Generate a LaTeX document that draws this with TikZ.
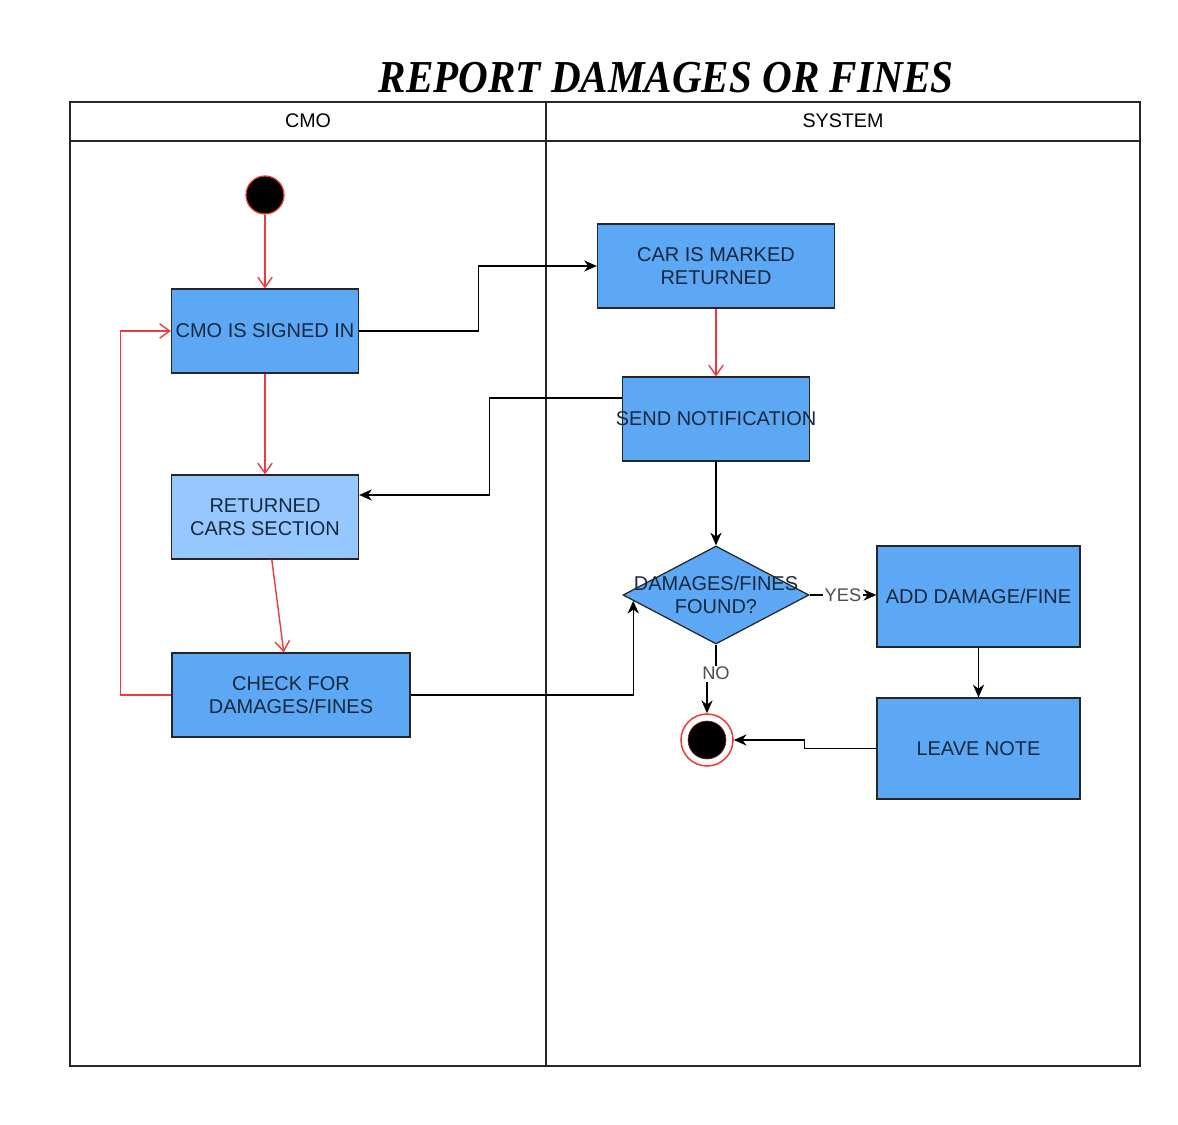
\documentclass[tikz,border=0pt]{standalone}
\usepackage{fontspec}
\setmainfont{Liberation Sans}
\newfontfamily\titlefont[FakeStretch=0.9]{Liberation Serif}
\usetikzlibrary{arrows.meta,shapes.geometric}
\definecolor{actblue}{RGB}{92,168,245}
\definecolor{actlight}{RGB}{150,200,255}
\definecolor{acttext}{RGB}{25,40,60}
\definecolor{flowred}{RGB}{235,60,60}
\begin{document}
\begin{tikzpicture}[x=0.025cm, y=-0.025cm,
    act/.style={draw=black!85, fill=actblue, line width=0.9pt, text=acttext, align=center,
        font=\fontsize{14.2pt}{16.3pt}\selectfont, inner sep=0pt, minimum height=2.1cm},
    acttxt/.style={text=acttext, align=center, font=\fontsize{14.2pt}{16.3pt}\selectfont},
    redflow/.style={draw=flowred, line width=1pt, -{Straight Barb[length=2.5mm,width=3.6mm]}},
    flow/.style={draw=black, line width=0.9pt, -{Stealth[length=3.2mm,width=2.8mm]}},
    lbl/.style={fill=white, inner sep=1pt, text=black!70, font=\fontsize{13pt}{15pt}\selectfont}]
\useasboundingbox (0,0) rectangle (1178,1125);

\node[anchor=base, font={\titlefont\bfseries\itshape\fontsize{32.5pt}{36pt}\selectfont}] (title) at (666,92) {REPORT DAMAGES OR FINES};

% lanes
\draw[line width=1.2pt, black!85] (70,102) rectangle (1140,1066);
\draw[line width=1.2pt, black!85] (70,141) -- (1140,141) (546,102) -- (546,1066);
\node[font=\fontsize{14pt}{16pt}\selectfont, text=black] (cmo) at (308,121) {CMO};
\node[font=\fontsize{14pt}{16pt}\selectfont, text=black] (system) at (843,121) {SYSTEM};

% CMO lane
\node[circle, draw=flowred, fill=black, minimum size=0.95cm, inner sep=0pt, line width=0.9pt] (start) at (265,195) {};
\node[act, minimum width=4.675cm] (signed) at (265,331) {CMO IS SIGNED IN};
\node[act, fill=actlight, minimum width=4.675cm] (returned) at (265,517) {RETURNED\\CARS SECTION};
\node[act, minimum width=5.95cm] (check) at (291,695) {CHECK FOR\\DAMAGES/FINES};

% system lane
\node[act, minimum width=5.925cm] (marked) at (716,266) {CAR IS MARKED\\RETURNED};
\node[act, minimum width=4.675cm] (notify) at (716,419) {};
\node[acttxt] (notifytext) at (notify) {SEND NOTIFICATION};
\node[diamond, draw=black!85, fill=actblue, line width=0.9pt, minimum width=4.65cm, minimum height=2.45cm, inner sep=0pt] (found) at (716,595) {};
\node[acttxt] (foundtext) at (found) {DAMAGES/FINES\\FOUND?};
\node[act, minimum width=5.075cm, minimum height=2.525cm] (add) at (978.5,596.5) {ADD DAMAGE/FINE};
\node[act, minimum width=5.075cm, minimum height=2.525cm] (leave) at (978.5,748.5) {LEAVE NOTE};
\node[circle, draw=flowred, fill=white, minimum size=1.3cm, inner sep=0pt, line width=1.1pt] (end) at (707,740) {};
\node[circle, draw=flowred!60!black, fill=black, minimum size=0.95cm, inner sep=0pt] (endcore) at (end) {};

% flows
\draw[redflow] (start) -- (signed);
\draw[redflow] (signed) -- (returned);
\draw[redflow] ([xshift=0.17cm]returned.south) -- ([xshift=-0.18cm]check.north);
\draw[redflow] (check.west) -- ++(-51,0) |- (signed.west);
\draw[flow] (signed.east) -- ++(119,0) |- (marked.west);
\draw[redflow] (marked) -- (notify);
\draw[flow] ([yshift=0.525cm]notify.west) -- ++(-132,0) |- ([yshift=0.55cm]returned.east);
\draw[flow] (notify) -- (found);
\draw[flow] (check.east) -| (found.184);
\draw[flow] (found.east) -- node[lbl] {YES} (found.east -| add.west);
\draw[flow] (found.south) -- ++(0,29) node[lbl] {NO} -| (end.north);
\draw[flow] (add) -- (leave);
\draw[flow] (leave.west) -- ++(-72,0) |- (end.east);
\end{tikzpicture}
\end{document}
